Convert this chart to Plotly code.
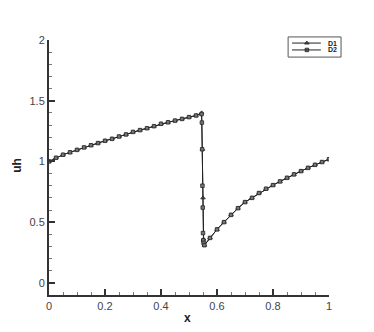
import plotly.graph_objects as go

# D1 (triangles)
x_d1 = [0.0, 0.025, 0.05, 0.075, 0.1, 0.125, 0.15, 0.175, 0.2, 0.225, 0.25, 0.275,
        0.3, 0.325, 0.35, 0.375, 0.4, 0.425, 0.45, 0.475, 0.5, 0.525, 0.545,
        0.548, 0.55, 0.552,
        0.555, 0.575, 0.6, 0.625, 0.65, 0.675, 0.7, 0.725, 0.75, 0.775, 0.8,
        0.825, 0.85, 0.875, 0.9, 0.925, 0.95, 0.975, 1.0]
y_d1 = [1.00, 1.03, 1.055, 1.075, 1.095, 1.115, 1.133, 1.151, 1.17, 1.186, 1.205, 1.222,
        1.243, 1.258, 1.273, 1.29, 1.31, 1.322, 1.336, 1.35, 1.365, 1.378, 1.40,
        1.10, 0.70, 0.36,
        0.31, 0.37, 0.44, 0.50, 0.56, 0.615, 0.665, 0.70, 0.74, 0.775, 0.805,
        0.835, 0.865, 0.893, 0.92, 0.947, 0.972, 0.995, 1.018]

# D2 (squares)
x_d2 = [0.0, 0.025, 0.05, 0.075, 0.1, 0.125, 0.15, 0.175, 0.2, 0.225, 0.25, 0.275,
        0.3, 0.325, 0.35, 0.375, 0.4, 0.425, 0.45, 0.475, 0.5, 0.525, 0.545,
        0.546, 0.547, 0.548, 0.549, 0.55, 0.551, 0.552,
        0.555, 0.575, 0.6, 0.625, 0.65, 0.675, 0.7, 0.725, 0.75, 0.775, 0.8,
        0.825, 0.85, 0.875, 0.9, 0.925, 0.95, 0.975, 1.0]
y_d2 = [1.00, 1.03, 1.055, 1.075, 1.095, 1.115, 1.133, 1.151, 1.17, 1.186, 1.205, 1.222,
        1.243, 1.258, 1.273, 1.29, 1.31, 1.322, 1.336, 1.35, 1.365, 1.378, 1.39,
        1.32, 1.10, 0.80, 0.62, 0.41, 0.35, 0.33,
        0.31, 0.37, 0.44, 0.50, 0.56, 0.615, 0.665, 0.70, 0.74, 0.775, 0.805,
        0.835, 0.865, 0.893, 0.92, 0.947, 0.972, 0.995, 1.018]

series_names = ["D1", "D2"]
series_symbols = ["triangle-up", "square"]
x_ticks = [0, 0.2, 0.4, 0.6, 0.8, 1]
x_tick_labels = ["0", "0.2", "0.4", "0.6", "0.8", "1"]
y_ticks = [0, 0.5, 1, 1.5, 2]
y_tick_labels = ["0", "0.5", "1", "1.5", "2"]

font_family = "Liberation Sans, Arial, sans-serif"
line_col = "#222222"
marker_fill = "#777777"

fig = go.Figure()
for xs, ys, name, sym, sz in [(x_d1, y_d1, series_names[0], series_symbols[0], 4),
                              (x_d2, y_d2, series_names[1], series_symbols[1], 3.5)]:
    fig.add_trace(go.Scatter(
        x=xs, y=ys, mode="lines+markers", name=name, showlegend=False,
        line=dict(color=line_col, width=1),
        marker=dict(symbol=sym, size=sz, color=marker_fill,
                    line=dict(color=line_col, width=0.8)),
    ))

axis_common = dict(
    showgrid=False, zeroline=False, showline=True, linecolor="#333333", linewidth=2,
    ticks="inside", ticklen=6, tickwidth=1.5, tickcolor="#333333", automargin=False,
    tickfont=dict(family=font_family, size=11, color="#444444"),
)

fig.update_xaxes(
    range=[0, 1], tickvals=x_ticks, ticktext=x_tick_labels,
    minor=dict(ticks="inside", dtick=0.05, ticklen=3, tickcolor="#777777", tickwidth=1),
    **axis_common,
)
fig.update_yaxes(
    range=[-0.1, 2], tickvals=y_ticks, ticktext=y_tick_labels,
    minor=dict(ticks="inside", dtick=0.1, ticklen=3, tickcolor="#777777", tickwidth=1),
    **axis_common,
)

title_font = dict(family=font_family, size=12, color="#222222")
fig.add_annotation(text="<b>x</b>", xref="paper", yref="paper", x=0.496, y=-0.09,
                   showarrow=False, font=title_font, xanchor="center", yanchor="middle")
fig.add_annotation(text="<b>uh</b>", xref="paper", yref="paper", x=-0.115, y=0.51,
                   showarrow=False, font=title_font, textangle=-90,
                   xanchor="center", yanchor="middle")

# compact legend box (paper coordinates)
fig.add_shape(type="rect", xref="paper", yref="paper", x0=0.854, x1=1.043, y0=0.933, y1=1.012,
              line=dict(color="#555555", width=1), fillcolor="white", layer="below")
leg_rows = [0.988, 0.961]
for i, ly in enumerate(leg_rows):
    fig.add_shape(type="line", xref="paper", yref="paper", x0=0.868, x1=0.971, y0=ly, y1=ly,
                  line=dict(color=line_col, width=1))
    fig.add_annotation(text="<b>%s</b>" % series_names[i], xref="paper", yref="paper",
                       x=0.99, y=ly, showarrow=False, xanchor="left", yanchor="middle",
                       font=dict(family=font_family, size=7, color="#222222"))
    fig.add_trace(go.Scatter(
        x=[0.921], y=[ly], xaxis="x2", yaxis="y2", mode="markers", showlegend=False,
        marker=dict(symbol=series_symbols[i], size=4 if i == 0 else 3.5, color=marker_fill,
                    line=dict(color=line_col, width=0.8)),
        hoverinfo="skip", cliponaxis=False))

fig.update_layout(
    width=374, height=332,
    margin=dict(l=41, r=53, t=32, b=45),
    paper_bgcolor="white", plot_bgcolor="white",
    showlegend=False,
    xaxis2=dict(overlaying="x", range=[0, 1], visible=False, fixedrange=True),
    yaxis2=dict(overlaying="y", range=[0, 1], visible=False, fixedrange=True),
)

fig.write_html("out.html")
